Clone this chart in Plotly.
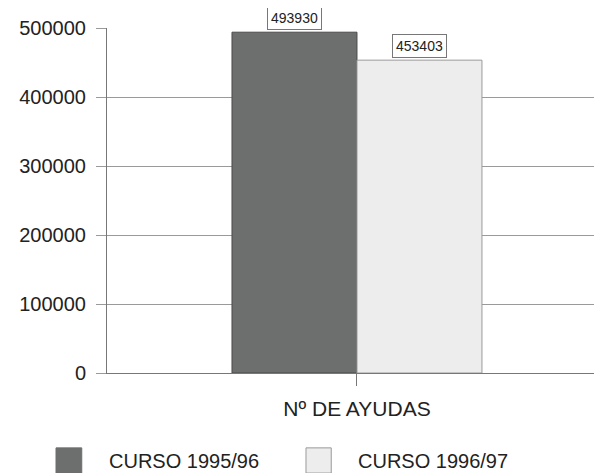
import plotly.graph_objects as go

category = ["Nº DE AYUDAS"]
series_names = ["CURSO 1995/96", "CURSO 1996/97"]
values_1995 = [493930]
values_1996 = [453403]
y_ticks = [0, 100000, 200000, 300000, 400000, 500000]

colors = ["#6d6e6e", "#ededed"]
line_colors = ["#4a4a4a", "#9a9a9a"]
FONT = "Liberation Sans, Arial, sans-serif"

fig = go.Figure()
for name, vals, c, lc in zip(series_names, [values_1995, values_1996], colors, line_colors):
    fig.add_trace(go.Bar(x=category, y=vals, name=name, marker=dict(color=c, line=dict(color=lc, width=1)),
                         showlegend=False))

# value labels (boxed) above bars
half = (1 - 0.495) / 4
for i, vals in enumerate([values_1995, values_1996]):
    off = -half if i == 0 else half
    fig.add_annotation(x=off, y=vals[0], xref="x", yref="y", text=str(vals[0]),
                       showarrow=False, yanchor="bottom", yshift=2,
                       font=dict(family=FONT, size=14, color="#222"),
                       bgcolor="white", bordercolor="#777", borderwidth=1, borderpad=3)

# custom legend with large squares
leg = [(-0.103, -0.051, 0.0), (0.402, 0.453, 0.503)]
for (x0, x1, tx), name, c, lc in zip(leg, series_names, colors, line_colors):
    fig.add_shape(type="rect", xref="paper", yref="paper", x0=x0, x1=x1, y0=-0.217, y1=-0.29,
                  fillcolor=c, line=dict(color=lc if c != colors[0] else c, width=1))
    fig.add_annotation(xref="paper", yref="paper", x=tx, y=-0.255, text=name, showarrow=False,
                       xanchor="left", yanchor="middle", font=dict(family=FONT, size=20, color="#222"))

fig.update_layout(
    width=594, height=465,
    margin=dict(l=99, r=0, t=20, b=100),
    paper_bgcolor="white", plot_bgcolor="white",
    barmode="group", bargap=0.495, bargroupgap=0,
    font=dict(family=FONT, size=19, color="#222"),
)
fig.update_xaxes(type="category", range=[-0.505, 0.495], showline=True, linecolor="#777", linewidth=1,
                 ticks="outside", ticklen=12, tickcolor="#777", showgrid=False,
                 ticklabelstandoff=5, tickfont=dict(size=21))
fig.update_yaxes(range=[0, 500000], tickvals=y_ticks, ticktext=[str(v) for v in y_ticks],
                 showgrid=True, gridcolor="#9a9a9a", gridwidth=1, zeroline=False,
                 showline=True, linecolor="#777", linewidth=1,
                 ticks="outside", ticklen=10, tickcolor="#9a9a9a", ticklabelstandoff=6,
                 tickfont=dict(size=20))

fig.write_html("out.html")
